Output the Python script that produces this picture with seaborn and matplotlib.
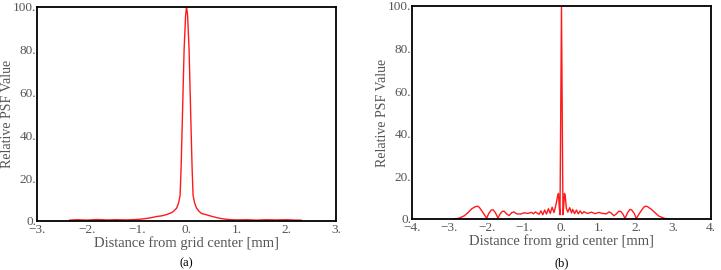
import pandas as pd
import matplotlib.pyplot as plt
import seaborn as sns

# Panel (a): PSF profile
xa = [-2.35, -2.2, -2.0, -1.8, -1.6, -1.4, -1.2, -1.0, -0.9, -0.8, -0.7, -0.6,
      -0.5, -0.4, -0.3, -0.25, -0.2, -0.16, -0.13, -0.11, -0.08, -0.05, -0.02, 0.0,
      0.02, 0.05, 0.08, 0.11, 0.13, 0.16, 0.2, 0.25, 0.3, 0.4, 0.5, 0.6, 0.7,
      0.8, 0.9, 1.0, 1.2, 1.4, 1.6, 1.8, 2.0, 2.2, 2.3]
ya = [0.4, 0.6, 0.4, 0.7, 0.5, 0.6, 0.5, 0.7, 0.9, 1.2, 1.6, 2.1,
      2.4, 3.0, 3.9, 4.8, 6.0, 8.5, 12.0, 25.0, 52.0, 80.0, 96.0, 100.0,
      96.0, 80.0, 52.0, 25.0, 12.0, 8.5, 6.0, 4.5, 3.5, 2.9, 2.2, 1.6, 1.1,
      0.8, 0.6, 0.5, 0.6, 0.4, 0.6, 0.5, 0.6, 0.4, 0.4]

# Panel (b)
xb = [-2.9, -2.75, -2.6, -2.5, -2.4, -2.3, -2.25, -2.2, -2.1, -2.0, -1.95, -1.88,
      -1.83, -1.77, -1.7, -1.64, -1.58, -1.53, -1.47, -1.4, -1.33, -1.27, -1.2,
      -1.1, -1.0, -0.9, -0.8, -0.75, -0.7, -0.6, -0.55, -0.5, -0.45, -0.4,
      -0.35, -0.3, -0.25, -0.2, -0.15, -0.1, -0.08, -0.06, -0.04, -0.02, 0.0,
      0.02, 0.04, 0.06, 0.08, 0.1, 0.13, 0.17, 0.22, 0.27, 0.3, 0.35, 0.4,
      0.45, 0.5, 0.55, 0.6, 0.7, 0.8, 0.9, 1.0, 1.1, 1.2, 1.27, 1.33, 1.4,
      1.47, 1.53, 1.58, 1.64, 1.7, 1.77, 1.83, 1.88, 1.95, 2.0, 2.1, 2.2,
      2.25, 2.3, 2.4, 2.5, 2.6, 2.75, 2.9]
yb = [0.0, 0.3, 1.5, 3.0, 4.8, 5.8, 6.0, 5.5, 3.0, 0.3, 2.5, 4.2,
      4.3, 3.0, 0.5, 2.4, 3.6, 3.6, 2.4, 1.6, 3.0, 3.3, 2.4,
      2.3, 2.9, 2.6, 3.1, 2.4, 3.3, 2.2, 3.8, 2.0, 4.2, 2.3,
      4.8, 2.6, 5.5, 3.0, 6.5, 11.0, 12.0, 6.0, 2.0, 50.0, 100.0,
      50.0, 2.0, 6.0, 12.0, 11.0, 5.0, 3.2, 5.3, 2.8, 4.5, 2.5, 4.2,
      2.4, 3.8, 2.5, 3.4, 2.6, 3.2, 2.5, 3.1, 2.6, 2.4, 3.3, 2.8, 1.5,
      2.4, 3.6, 3.6, 2.4, 0.3, 3.0, 4.5, 4.2, 2.5, 0.2, 3.0, 5.5,
      6.0, 5.8, 4.6, 3.0, 1.4, 0.3, 0.0]

xticks_a = [-3, -2, -1, 0, 1, 2, 3]
xticks_b = [-4, -3, -2, -1, 0, 1, 2, 3, 4]
yticks = [0, 20, 40, 60, 80, 100]

sns.set_theme(style="white")
plt.rcParams['font.family'] = ['Liberation Serif', 'DejaVu Serif']

df_a = pd.DataFrame({'x': xa, 'y': ya})
df_b = pd.DataFrame({'x': xb, 'y': yb})

fig = plt.figure(figsize=(7.21, 2.70), dpi=100)
ax1 = fig.add_axes([0.0513, 0.1815, 0.415, 0.793])
ax2 = fig.add_axes([0.5714, 0.189, 0.4147, 0.789])

panels = [(ax1, df_a, xticks_a, '(a)', 0.258), (ax2, df_b, xticks_b, '(b)', 0.779)]
for ax, df, xt, cap, cx in panels:
    sns.lineplot(data=df, x='x', y='y', ax=ax, color='#ff1a1a', linewidth=1.0)
    ax.set_xlim(xt[0], xt[-1])
    ax.set_ylim(0, 100)
    ax.set_xticks(xt)
    ax.set_xticklabels([f'{v}.'.replace('-', '\u2212') for v in xt])
    ax.set_yticks(yticks)
    ax.set_yticklabels([f'{v}.' for v in yticks])
    ax.tick_params(direction='in', length=3, width=1, colors='#555555', labelsize=9.5)
    ax.tick_params(axis='x', pad=2.5)
    ax.tick_params(axis='y', pad=0.5)
    for s in ax.spines.values():
        s.set_color('black')
        s.set_linewidth(1.3)
    ax.set_xlabel('Distance from grid center [mm]', fontsize=10.5, color='#555555', labelpad=0)
    ax.set_ylabel('Relative PSF Value', fontsize=10, color='#555555', labelpad=-1)
    fig.text(cx, 0.026, cap, ha='center', va='center', fontsize=9, color='black')

fig.savefig('out.png', dpi=100)
